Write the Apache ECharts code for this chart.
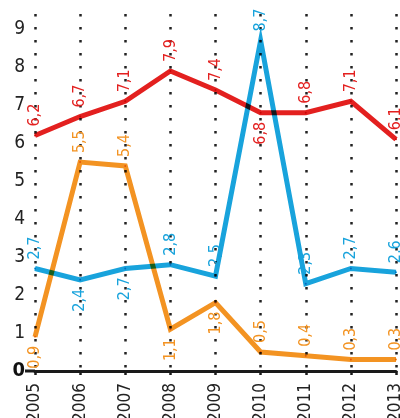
<!DOCTYPE html>
<html>
<head>
<meta charset="utf-8">
<script src="https://cdn.jsdelivr.net/npm/echarts@6/dist/echarts.min.js"></script>
<style>
  html, body { margin: 0; padding: 0; background: #fff; }
  #chart { width: 400px; height: 418px; }
</style>
</head>
<body>
<div id="chart"></div>
<script>
    // data
    var years = ['2005', '2006', '2007', '2008', '2009', '2010', '2011', '2012', '2013'];
    var red = [6.2, 6.7, 7.1, 7.9, 7.4, 6.8, 6.8, 7.1, 6.1];
    var blue = [2.7, 2.4, 2.7, 2.8, 2.5, 8.7, 2.3, 2.7, 2.6];
    var orange = [0.9, 5.5, 5.4, 1.1, 1.8, 0.5, 0.4, 0.3, 0.3];
    // indices whose value label sits under the line
    var redBelow = [5];
    var blueBelow = [1, 2];
    var orangeBelow = [0, 3, 4];

    var font = '"DejaVu Sans Condensed", "Liberation Sans Narrow", "Noto Sans", sans-serif';

    function makeData(values, below) {
        return values.map(function (v, i) {
            if (below.indexOf(i) >= 0) {
                return { value: v, label: { position: 'bottom', align: 'right' } };
            }
            return v;
        });
    }

    function makeSeries(name, values, below, color) {
        return {
            name: name,
            type: 'line',
            data: makeData(values, below),
            symbol: 'circle',
            symbolSize: 2,
            blendMode: 'multiply',
            lineStyle: { color: color, width: 5, join: 'miter' },
            itemStyle: { color: color },
            label: {
                show: true,
                position: 'top',
                distance: 8,
                rotate: 90,
                align: 'left',
                verticalAlign: 'middle',
                color: color,
                fontFamily: font,
                fontSize: 16,
                formatter: function (p) { return String(p.value).replace('.', ','); }
            }
        };
    }

    var myChart = echarts.init(document.getElementById('chart'));
    var option = {
        animation: false,
        grid: { left: 35, right: 4, top: 14, bottom: 47, outerBoundsMode: 'none', containLabel: false },
        xAxis: {
            type: 'category',
            data: years,
            boundaryGap: false,
            axisLine: { lineStyle: { color: '#1a1a1a', width: 3 } },
            axisTick: { show: true, length: 4, lineStyle: { color: '#1a1a1a', width: 2.5 } },
            axisLabel: {
                rotate: 90,
                margin: 12,
                color: '#222',
                fontFamily: font,
                fontSize: 17
            },
            splitLine: {
                show: true,
                lineStyle: { color: '#222', width: 2.5, type: [2.5, 10.5] }
            }
        },
        yAxis: {
            type: 'value',
            min: 0,
            max: 9.4,
            interval: 1,
            axisLine: { show: false },
            axisTick: { show: false },
            splitLine: { show: false },
            axisLabel: {
                showMaxLabel: false,
                margin: 10,
                color: '#222',
                fontFamily: font,
                fontSize: 19,
                formatter: function (v) { return v === 0 ? '{b|0}' : String(v); },
                rich: { b: { fontWeight: 'bold', fontSize: 20, color: '#111', fontFamily: font } }
            }
        },
        series: [
            makeSeries('red', red, redBelow, '#e3201f'),
            makeSeries('blue', blue, blueBelow, '#18a3dc'),
            makeSeries('orange', orange, orangeBelow, '#f39322')
        ]
    };
    myChart.setOption(option);

    // axis line runs a little past the first category on the left
    var p0 = myChart.convertToPixel({ gridIndex: 0 }, [0, 0]);
    myChart.setOption({
        graphic: [{
            type: 'line',
            shape: { x1: p0[0] - 10, y1: p0[1], x2: p0[0], y2: p0[1] },
            style: { stroke: '#1a1a1a', lineWidth: 3 }
        }]
    });
</script>
</body>
</html>
